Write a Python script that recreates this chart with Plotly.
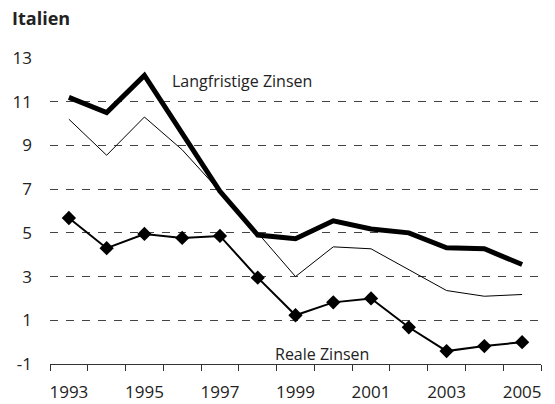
import plotly.graph_objects as go

years = list(range(1993, 2006))
lang = [11.2, 10.5, 12.2, 9.5, 6.9, 4.9, 4.73, 5.55, 5.18, 5.0, 4.32, 4.27, 3.55]
kurz = [10.2, 8.55, 10.3, 8.8, 6.9, 5.0, 3.0, 4.36, 4.27, 3.32, 2.36, 2.1, 2.18]
real = [5.68, 4.3, 4.95, 4.77, 4.86, 2.95, 1.23, 1.82, 2.0, 0.68, -0.41, -0.18, 0.0]
ytick_vals = [-1, 1, 3, 5, 7, 9, 11, 13]
ytick_text = ["-1", "1", "3", "5", "7", "9", "11", "13"]
xtick_labels = [1993, 1995, 1997, 1999, 2001, 2003, 2005]

FONT = "Open Sans"

fig = go.Figure()
fig.add_trace(go.Scatter(x=years, y=kurz, mode="lines",
                         line=dict(color="black", width=1), showlegend=False))
fig.add_trace(go.Scatter(x=years, y=lang, mode="lines",
                         line=dict(color="black", width=5), showlegend=False))
fig.add_trace(go.Scatter(x=years, y=real, mode="lines+markers",
                         line=dict(color="black", width=2),
                         marker=dict(symbol="diamond", size=11, color="black"),
                         showlegend=False))

fig.update_layout(
    width=555, height=404,
    margin=dict(l=50, r=14, t=58, b=40),
    paper_bgcolor="white", plot_bgcolor="white",
    font=dict(family=FONT, size=16, color="#222"),
    xaxis=dict(
        range=[1992.5, 2005.5], automargin=False,
        tickmode="array", tickvals=xtick_labels,
        ticktext=[str(v) for v in xtick_labels],
        ticks="", showgrid=False, zeroline=False,
        showline=True, linecolor="#333", linewidth=1,
        tickfont=dict(size=17, family=FONT, color="#222"),
        ticklabelstandoff=13,
        minor=dict(tickmode="linear", tick0=1992.5, dtick=1,
                   ticks="outside", ticklen=6, tickcolor="#333", tickwidth=1,
                   showgrid=False),
    ),
    yaxis=dict(
        range=[-1, 13], automargin=False,
        tickmode="array", tickvals=ytick_vals, ticktext=ytick_text,
        ticks="", showline=False, zeroline=False,
        showgrid=True, gridcolor="#444", gridwidth=1, griddash="8px,8px",
        tickfont=dict(size=17, family=FONT, color="#222"),
        ticklabelstandoff=17,
    ),
    annotations=[
        dict(text="<b>Italien</b>", xref="paper", yref="paper",
             x=-40/491, y=1 + 40/306, xanchor="left", yanchor="middle",
             showarrow=False, font=dict(size=18, family=FONT, color="#222")),
        dict(text="Langfristige Zinsen", xref="x", yref="y",
             x=1995.68, y=11.95, xanchor="left", yanchor="middle",
             showarrow=False, font=dict(size=16, family=FONT, color="#222")),
        dict(text="Kurzfristige Zinsen", xref="x", yref="y",
             x=1992.45, y=7.8, xanchor="left", yanchor="middle",
             showarrow=False, font=dict(size=16, family=FONT, color="#222")),
        dict(text="Reale Zinsen", xref="x", yref="y",
             x=1998.4, y=-0.55, xanchor="left", yanchor="middle",
             showarrow=False, font=dict(size=16, family=FONT, color="#222")),
    ],
)

fig.write_html("out.html", config={"displayModeBar": False},
               post_script="document.body.style.margin='0';")
